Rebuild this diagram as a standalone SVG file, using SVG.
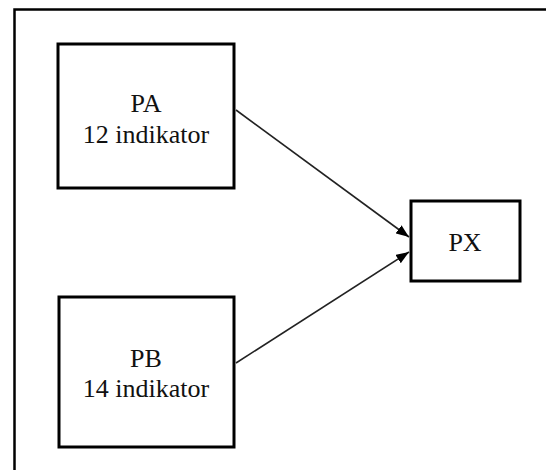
<svg xmlns="http://www.w3.org/2000/svg" width="546" height="470" viewBox="0 0 546 470">
  <style>
    .box { fill: #ffffff; stroke: #000000; stroke-width: 3; }
    .lbl { font-size: 26px; fill: #111111; text-anchor: middle; }
    .conn { stroke: #222222; stroke-width: 1.6; fill: none; marker-end: url(#arrow); }
  </style>
  <defs>
    <marker id="arrow" markerUnits="userSpaceOnUse" markerWidth="14" markerHeight="10" refX="13" refY="5" orient="auto">
      <path d="M0,0 L13,5 L0,10 z" fill="#000000"/>
    </marker>
  </defs>
  <rect width="546" height="470" fill="#ffffff"/>
  <path d="M14.5,472 V9.5 H548" fill="none" stroke="#000000" stroke-width="2.5"/>
  <g font-family="'Liberation Serif', 'DejaVu Serif', serif">
    <g id="PA">
      <rect class="box" x="58" y="44" width="176" height="144"/>
      <text class="lbl" x="146" y="112">PA</text>
      <text class="lbl" x="146" y="143">12 indikator</text>
    </g>
    <g id="PB">
      <rect class="box" x="59" y="297" width="175" height="150"/>
      <text class="lbl" x="146" y="367">PB</text>
      <text class="lbl" x="146" y="397">14 indikator</text>
    </g>
    <g id="PX">
      <rect class="box" x="411" y="201" width="109" height="80"/>
      <text class="lbl" x="465" y="251">PX</text>
    </g>
  </g>
  <g id="connectors">
    <line class="conn" x1="236" y1="110" x2="409" y2="237"/>
    <line class="conn" x1="236" y1="363" x2="409" y2="252"/>
  </g>
</svg>
